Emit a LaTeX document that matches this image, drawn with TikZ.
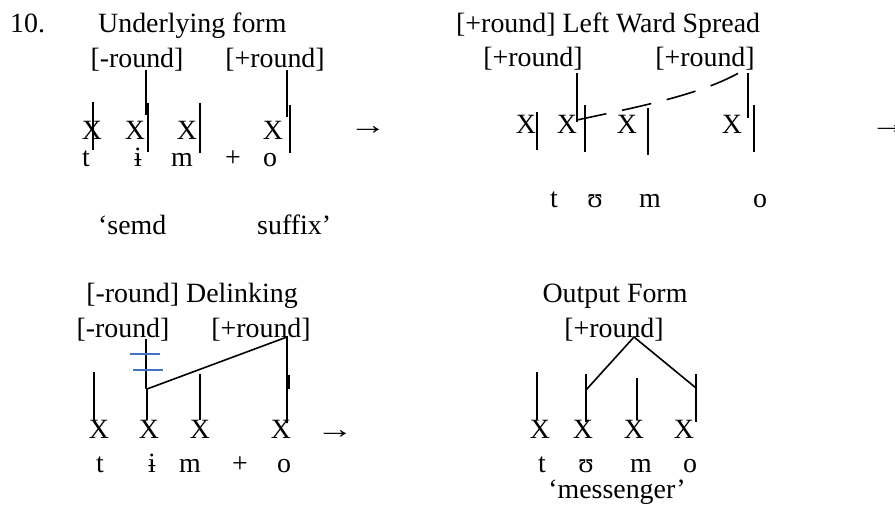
\documentclass[tikz,border=0pt]{standalone}
\usepackage{fontspec}
\setmainfont{Liberation Serif}
\usetikzlibrary{positioning}
\definecolor{StrikeBlue}{HTML}{4472C4}

\begin{document}
\begin{tikzpicture}[x=1bp,y=-1bp,
    lbl/.style={inner sep=0pt,anchor=base,font=\fontsize{28}{30}\selectfont},
    lblw/.style={lbl,anchor=base west},
    link/.style={line width=1.6bp},
    dlink/.style={line width=1.6bp,dash pattern=on 30bp off 16bp},
    cut/.style={line width=1.4bp,draw=StrikeBlue}
]
\useasboundingbox (0,0) rectangle (895,512);

% underlying form
\node[lblw] (num) at (10,33) {10.};
\node[lblw] (uf) at (98,33) {Underlying form};
\node[lbl] (uf-neg) at (137,68) {[-round]};
\node[lbl] (uf-pos) at (275,68) {[+round]};
\node[lbl] (uf-x1) at (92,140) {X};
\node[lbl] (uf-x2) at (135,140) {X};
\node[lbl] (uf-x3) at (187,140) {X};
\node[lbl] (uf-x4) at (273,140) {X};
\node[lbl] (uf-t) at (86,167) {t};
\node[lbl] (uf-i) at (138,167) {ɨ};
\node[lbl] (uf-m) at (182,167) {m};
\node[lbl] (uf-plus) at (233,167) {+};
\node[lbl] (uf-o) at (270,167) {o};
\node[lblw] (uf-gl1) at (98,235) {‘semd};
\node[lblw] (uf-gl2) at (257,235) {suffix’};
\coordinate (uf-a1) at (146,70);  \coordinate (uf-a2) at (146,115);
\coordinate (uf-a3) at (287,70);  \coordinate (uf-a4) at (287,117);
\coordinate (uf-b1) at (93,102);  \coordinate (uf-b2) at (93,150);
\coordinate (uf-b3) at (148,103); \coordinate (uf-b4) at (148,152);
\coordinate (uf-b5) at (200,103); \coordinate (uf-b6) at (200,153);
\coordinate (uf-b7) at (290,105); \coordinate (uf-b8) at (290,153);
\draw[link] (uf-a1) -- (uf-a2);
\draw[link] (uf-a3) -- (uf-a4);
\draw[link] (uf-b1) -- (uf-b2);
\draw[link] (uf-b3) -- (uf-b4);
\draw[link] (uf-b5) -- (uf-b6);
\draw[link] (uf-b7) -- (uf-b8);
\node[lbl] (arr1) at (368,135) {\scalebox{1.35}[1]{→}};

% leftward spread
\node[lblw] (ws) at (456,33) {[+round] Left Ward Spread};
\node[lbl] (ws-pos1) at (533,67) {[+round]};
\node[lbl] (ws-pos2) at (705,67) {[+round]};
\node[lbl] (ws-x1) at (526,134) {X};
\node[lbl] (ws-x2) at (567,134) {X};
\node[lbl] (ws-x3) at (627,134) {X};
\node[lbl] (ws-x4) at (732,134) {X};
\node[lbl] (ws-t) at (554,208) {t};
\node[lbl] (ws-u) at (595,208) {ʊ};
\node[lbl] (ws-m) at (650,208) {m};
\node[lbl] (ws-o) at (760,208) {o};
\coordinate (ws-a1) at (577,73);  \coordinate (ws-a2) at (577,122);
\coordinate (ws-a3) at (748,73);  \coordinate (ws-a4) at (748,118);
\coordinate (ws-b1) at (537,112); \coordinate (ws-b2) at (537,150);
\coordinate (ws-b3) at (585,105); \coordinate (ws-b4) at (585,152);
\coordinate (ws-b5) at (648,108); \coordinate (ws-b6) at (648,155);
\coordinate (ws-b7) at (754,105); \coordinate (ws-b8) at (754,152);
\coordinate (ws-d1) at (577,120); \coordinate (ws-d2) at (747,68);
\draw[link] (ws-a1) -- (ws-a2);
\draw[link] (ws-a3) -- (ws-a4);
\draw[link] (ws-b1) -- (ws-b2);
\draw[link] (ws-b3) -- (ws-b4);
\draw[link] (ws-b5) -- (ws-b6);
\draw[link] (ws-b7) -- (ws-b8);
\draw[dlink] (ws-d1) .. controls (637,107) and (707,94) .. (ws-d2);
\node[lbl] (arr2) at (889,134) {\scalebox{1.35}[1]{→}};

% delinking
\node[lbl] (dl) at (192,303) {[-round] Delinking};
\node[lbl] (dl-neg) at (123,338) {[-round]};
\node[lbl] (dl-pos) at (261,338) {[+round]};
\node[lbl] (dl-x1) at (99,438) {X};
\node[lbl] (dl-x2) at (149,438) {X};
\node[lbl] (dl-x3) at (200,438) {X};
\node[lbl] (dl-x4) at (281,438) {X};
\node[lbl] (dl-t) at (100,472) {t};
\node[lbl] (dl-i) at (152,472) {ɨ};
\node[lbl] (dl-m) at (190,472) {m};
\node[lbl] (dl-plus) at (240,472) {+};
\node[lbl] (dl-o) at (284,472) {o};
\coordinate (dl-a1) at (146,339); \coordinate (dl-a2) at (146,389);
\coordinate (dl-a3) at (287,337); \coordinate (dl-a4) at (287,423);
\coordinate (dl-a5) at (289,375); \coordinate (dl-a6) at (289,389);
\coordinate (dl-b1) at (94,372);  \coordinate (dl-b2) at (94,420);
\coordinate (dl-b3) at (147,389); \coordinate (dl-b4) at (147,420);
\coordinate (dl-b5) at (200,374); \coordinate (dl-b6) at (200,420);
\coordinate (dl-c1) at (130,354); \coordinate (dl-c2) at (160,354);
\coordinate (dl-c3) at (133,370); \coordinate (dl-c4) at (163,370);
\draw[link] (dl-a1) -- (dl-a2);
\draw[link] (dl-b3) -- (dl-a3) -- (dl-a4);
\draw[link] (dl-a5) -- (dl-a6);
\draw[link] (dl-b1) -- (dl-b2);
\draw[link] (dl-b3) -- (dl-b4);
\draw[link] (dl-b5) -- (dl-b6);
\draw[cut] (dl-c1) -- (dl-c2);
\draw[cut] (dl-c3) -- (dl-c4);
\node[lbl] (arr3) at (335,438) {\scalebox{1.35}[1]{→}};

% output form
\node[lbl] (of) at (615,303) {Output Form};
\node[lbl] (of-pos) at (614,338) {[+round]};
\node[lbl] (of-x1) at (540,438) {X};
\node[lbl] (of-x2) at (583,438) {X};
\node[lbl] (of-x3) at (634,438) {X};
\node[lbl] (of-x4) at (684,438) {X};
\node[lbl] (of-t) at (542,472) {t};
\node[lbl] (of-u) at (586,472) {ʊ};
\node[lbl] (of-m) at (641,472) {m};
\node[lbl] (of-o) at (690,472) {o};
\node[lbl] (of-gl) at (617,498) {‘messenger’};
\coordinate (of-top) at (634,337);
\coordinate (of-l) at (586,390);  \coordinate (of-r) at (696,388);
\coordinate (of-a1) at (586,374); \coordinate (of-a2) at (586,422);
\coordinate (of-a3) at (696,374); \coordinate (of-a4) at (696,422);
\coordinate (of-b1) at (537,372); \coordinate (of-b2) at (537,420);
\coordinate (of-b3) at (637,378); \coordinate (of-b4) at (637,420);
\draw[link] (of-l) -- (of-top) -- (of-r);
\draw[link] (of-a1) -- (of-a2);
\draw[link] (of-a3) -- (of-a4);
\draw[link] (of-b1) -- (of-b2);
\draw[link] (of-b3) -- (of-b4);
\end{tikzpicture}
\end{document}
